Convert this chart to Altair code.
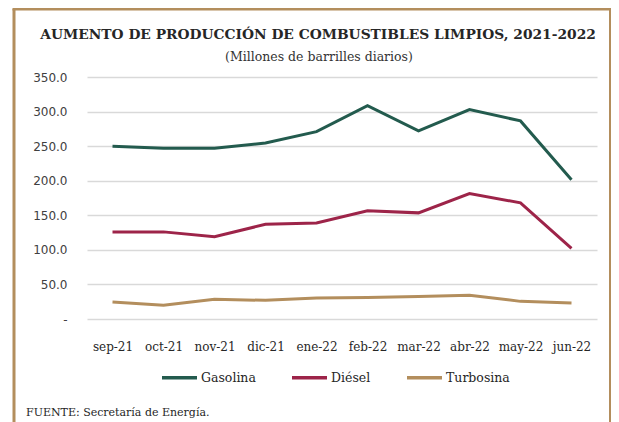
import altair as alt
import pandas as pd

months = ["sep-21", "oct-21", "nov-21", "dic-21", "ene-22", "feb-22",
          "mar-22", "abr-22", "may-22", "jun-22"]
series = ["Gasolina", "Diésel", "Turbosina"]
gasolina = [250.0, 247.0, 247.0, 254.5, 271.0, 308.5, 272.0, 303.0, 286.5, 201.5]
diesel = [126.0, 126.0, 119.0, 137.0, 139.0, 156.5, 153.5, 181.5, 168.0, 102.0]
turbosina = [24.5, 20.0, 28.5, 27.0, 30.5, 31.0, 32.5, 34.5, 25.5, 23.0]
colors = ["#235B4E", "#9D2449", "#B38E5D"]
y_ticks = [0, 50, 100, 150, 200, 250, 300, 350]
title_text = "AUMENTO DE PRODUCCIÓN DE COMBUSTIBLES LIMPIOS, 2021-2022"
subtitle_text = "(Millones de barrilles diarios)"
source_text = "FUENTE:  Secretaría  de  Energía."

rows = []
for name, vals in zip(series, [gasolina, diesel, turbosina]):
    for m, v in zip(months, vals):
        rows.append({"mes": m, "serie": name, "valor": v})
df = pd.DataFrame(rows)

SERIF = "DejaVu Serif"
SANS = "DejaVu Sans"
BORDER = "#B38E5D"

lines = alt.Chart(df).mark_line(strokeWidth=3).encode(
    x=alt.X("mes:N", sort=months, title=None,
            scale=alt.Scale(type="point", padding=0.5),
            axis=alt.Axis(labelAngle=0, ticks=False, domain=False, grid=False,
                          labelFont=SERIF, labelFontSize=12, labelColor="#262626",
                          labelPadding=22)),
    y=alt.Y("valor:Q", title=None,
            scale=alt.Scale(domain=[0, 350], nice=False),
            axis=alt.Axis(values=y_ticks, ticks=False, domain=False,
                          gridColor="#D9D9D9", gridWidth=1.3,
                          labelFont=SANS, labelFontSize=12, labelColor="#404040",
                          labelPadding=20,
                          labelExpr="datum.value == 0 ? '-\u00a0\u00a0\u00a0' : format(datum.value, '.1f')")),
    color=alt.Color("serie:N", sort=series,
                    scale=alt.Scale(domain=series, range=colors),
                    legend=alt.Legend(title=None, orient="none", direction="horizontal",
                                      legendX=73, legendY=281,
                                      symbolType="stroke", symbolSize=1225,
                                      symbolStrokeWidth=3.5, labelOffset=2,
                                      columnPadding=29, padding=0,
                                      labelFont=SERIF, labelFontSize=12.5,
                                      labelColor="#262626")),
)

one = pd.DataFrame({"t": [source_text], "h": [title_text], "s": [subtitle_text]})
left_border = alt.Chart(one).mark_rule(color=BORDER, strokeWidth=3).encode(
    x=alt.value(-73), y=alt.value(-68), y2=alt.value(345))
top_border = alt.Chart(one).mark_rule(color=BORDER, strokeWidth=3).encode(
    x=alt.value(-74.5), x2=alt.value(524), y=alt.value(-68))
right_border = alt.Chart(one).mark_rule(color=BORDER, strokeWidth=2).encode(
    x=alt.value(523), y=alt.value(-68), y2=alt.value(345))
title = alt.Chart(one).mark_text(align="center", baseline="alphabetic", font=SERIF,
                                 fontSize=13.8, fontWeight="bold", color="#262626").encode(
    x=alt.value(231), y=alt.value(-38), text="h:N")
subtitle = alt.Chart(one).mark_text(align="center", baseline="alphabetic", font=SERIF,
                                    fontSize=12.5, color="#333333").encode(
    x=alt.value(232), y=alt.value(-16), text="s:N")
source = alt.Chart(one).mark_text(align="left", baseline="alphabetic", font=SERIF,
                                  fontSize=11, color="#262626").encode(
    x=alt.value(-61), y=alt.value(339), text="t:N")

chart = alt.layer(lines, left_border, top_border, right_border,
                  title, subtitle, source).properties(
    width=510, height=242,
    padding={"left": 79, "top": 69, "right": 14, "bottom": 103},
    autosize=alt.AutoSizeParams(type="none"),
).configure(background="white").configure_view(stroke=None)

chart.save("out.html", embed_options={"renderer": "svg", "actions": False})
